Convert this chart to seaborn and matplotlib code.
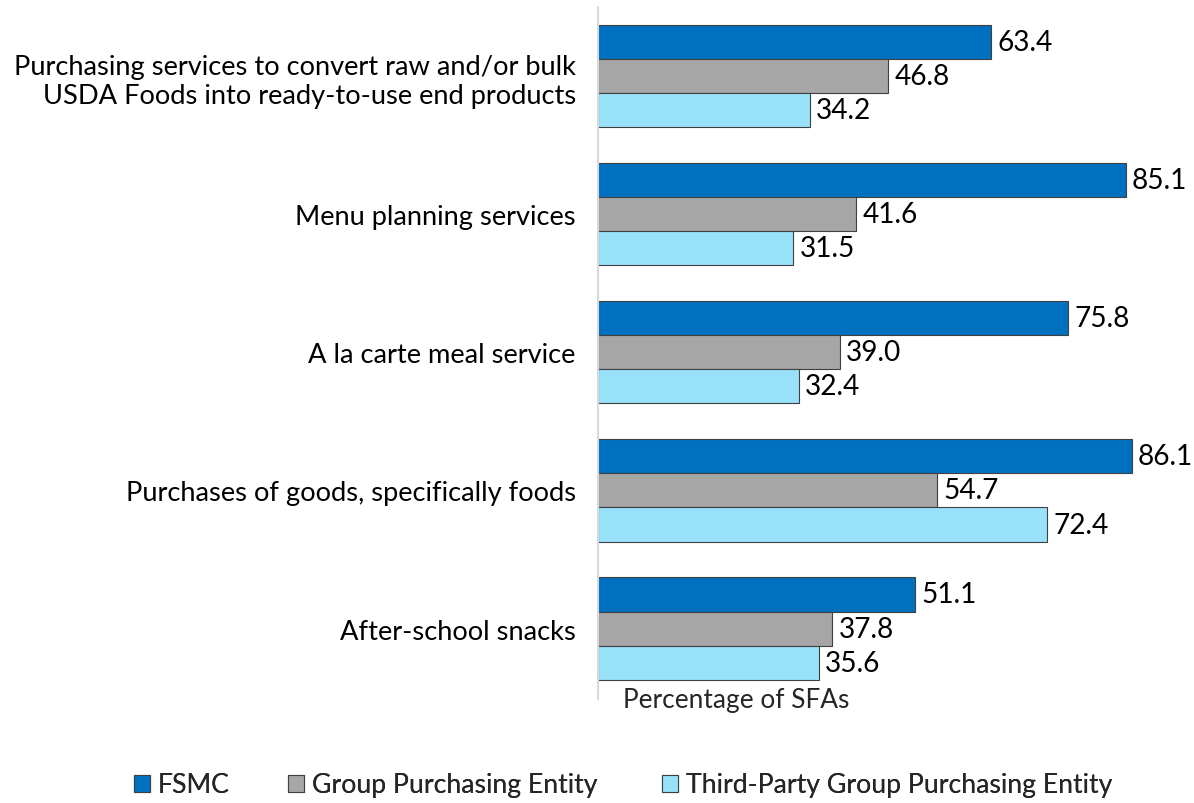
import matplotlib
matplotlib.use("Agg")
import matplotlib.pyplot as plt
import seaborn as sns
import pandas as pd
from matplotlib.patches import Patch
from matplotlib.textpath import TextPath
from matplotlib.font_manager import FontProperties

categories = [
    "Purchasing services to convert raw and/or bulk\nUSDA Foods into ready-to-use end products",
    "Menu planning services",
    "A la carte meal service",
    "Purchases of goods, specifically foods",
    "After-school snacks",
]
series = ["FSMC", "Group Purchasing Entity", "Third-Party Group Purchasing Entity"]
fsmc = [63.4, 85.1, 75.8, 86.1, 51.1]
gpe = [46.8, 41.6, 39.0, 54.7, 37.8]
tpgpe = [34.2, 31.5, 32.4, 72.4, 35.6]
colors = ["#0070C0", "#A6A6A6", "#97E1FB"]

rows = []
for name, vals in zip(series, [fsmc, gpe, tpgpe]):
    for c, v in zip(categories, vals):
        rows.append({"Category": c, "Series": name, "Value": v})
df = pd.DataFrame(rows)

sns.set_style("white")
plt.rcParams["font.family"] = ["Lato", "DejaVu Sans"]
DPI = 100


def fit_size(text, target_px):
    """font size (pt) so that text renders about target_px wide at DPI"""
    fp = FontProperties(family="Lato", size=10)
    w = TextPath((0, 0), text, prop=fp).get_extents().width  # in points at size 10
    return 10 * target_px / (w * DPI / 72)


FS_CAT = fit_size("Purchasing services to convert raw and/or bulk", 560)
FS_LEG = fit_size("Group Purchasing Entity", 283)
FS_VAL = fit_size("86.1", 52)
FS_AX = fit_size("Percentage of SFAs", 223)

fig = plt.figure(figsize=(11.94, 8.04), dpi=DPI)
x0 = 598
ax = fig.add_axes([x0 / 1194, 1 - 700 / 804, 1 - x0 / 1194, (700 - 8) / 804])

sns.barplot(data=df, y="Category", x="Value", hue="Series", hue_order=series,
            order=categories, palette=colors, saturation=1, orient="h", width=0.74,
            edgecolor="#404040", linewidth=0.8, ax=ax, legend=False)

for cont in ax.containers:
    ax.bar_label(cont, fmt="%.1f", padding=4.5, fontsize=FS_VAL, color="#000000")

ax.set_xlim(0, (1194 - x0) / 6.2)
ax.set_ylim(4.51, -0.5)
ax.set_xlabel("")
ax.set_ylabel("")
ax.set_xticks([])
ax.tick_params(axis="y", length=0, pad=16, labelsize=FS_CAT, labelcolor="#000000")
for lab in ax.get_yticklabels():
    lab.set_horizontalalignment("right")
    lab.set_multialignment("right")
for s in ["top", "right", "bottom"]:
    ax.spines[s].set_visible(False)
ax.spines["left"].set_color("#D9D9D9")
ax.spines["left"].set_linewidth(1.5)

fig.text(736 / 1194, 1 - 701 / 804, "Percentage of SFAs", ha="center", va="center", fontsize=FS_AX)

legend_x = [134, 288, 662]
for c, name, lx in zip(colors, series, legend_x):
    h = Patch(facecolor=c, edgecolor="#404040", linewidth=0.8)
    leg = fig.legend([h], [name], loc="center left", bbox_to_anchor=(lx / 1194, 1 - 786 / 804),
                     frameon=False, fontsize=FS_LEG, handlelength=0.6, handleheight=0.6,
                     handletextpad=0.3, borderpad=0, borderaxespad=0)
    fig.add_artist(leg)

fig.savefig("out.png", dpi=DPI)
